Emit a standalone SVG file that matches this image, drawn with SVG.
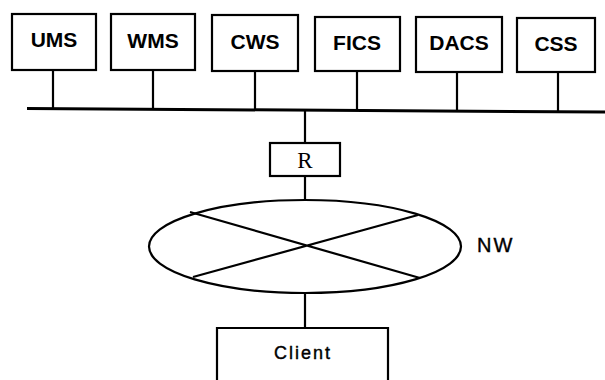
<svg xmlns="http://www.w3.org/2000/svg" width="605" height="380" viewBox="0 0 605 380">
  <style>
    .box { fill: #fff; stroke: #000; stroke-width: 2.2; }
    .line { stroke: #000; stroke-width: 2.2; fill: none; }
    .bus { stroke: #000; stroke-width: 3; fill: none; }
    .lbl { font-family: "Liberation Sans", Arial, sans-serif; font-size: 21px; font-weight: bold; text-anchor: middle; fill: #000; }
    .serif { font-family: "Liberation Serif", "Times New Roman", serif; font-size: 23px; text-anchor: middle; fill: #000; }
    .plain { font-family: "Liberation Sans", Arial, sans-serif; fill: #000; stroke: #000; stroke-width: 0.4; }
  </style>
  <rect width="605" height="380" fill="#fff"/>

  <!-- connectors: stems, bus, router and network links -->
  <g id="connectors">
    <path class="bus" d="M27 108.5 L605 112"/>
    <path class="line" d="M53 70 V109 M153 70 V109 M255 71 V110 M357 71 V111 M457 72 V111 M558 72 V112"/>
    <path class="line" d="M305 110 V143 M305 176 V200 M305 293 V328"/>
  </g>

  <g id="ums">
    <rect class="box" x="12" y="14" width="84" height="56"/>
    <text class="lbl" x="54" y="47">UMS</text>
  </g>
  <g id="wms">
    <rect class="box" x="111" y="14" width="84" height="56"/>
    <text class="lbl" x="153" y="48">WMS</text>
  </g>
  <g id="cws">
    <rect class="box" x="212" y="15" width="86" height="56"/>
    <text class="lbl" x="255" y="49">CWS</text>
  </g>
  <g id="fics">
    <rect class="box" x="315" y="17" width="85" height="54"/>
    <text class="lbl" x="357" y="50">FICS</text>
  </g>
  <g id="dacs">
    <rect class="box" x="416" y="17" width="86" height="55"/>
    <text class="lbl" x="459" y="50">DACS</text>
  </g>
  <g id="css">
    <rect class="box" x="517" y="18" width="78" height="54"/>
    <text class="lbl" x="556" y="51">CSS</text>
  </g>

  <g id="router">
    <rect class="box" x="270" y="143" width="70" height="33"/>
    <text class="serif" x="305" y="168">R</text>
  </g>

  <g id="network">
    <ellipse class="line" cx="305" cy="246.5" rx="156" ry="46.5" stroke-width="2.5"/>
    <path class="line" d="M190 212 L420 278 M193 277 L418 215"/>
    <text class="plain" x="477" y="252" font-size="20" letter-spacing="2">NW</text>
  </g>

  <g id="client">
    <path class="line" d="M217 382 V328 H388 V382"/>
    <text class="plain" x="303" y="359" font-size="18" letter-spacing="2" text-anchor="middle">Client</text>
  </g>
</svg>
